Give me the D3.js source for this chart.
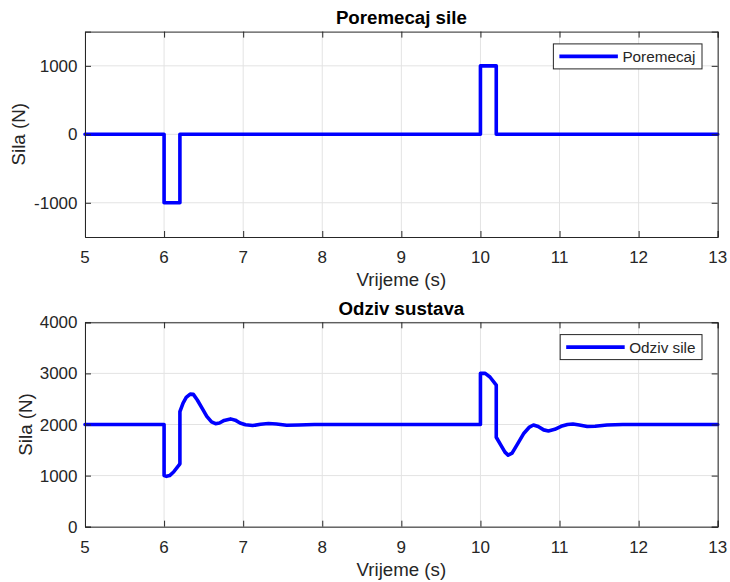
<!DOCTYPE html>
<html>
<head>
<meta charset="utf-8">
<script src="https://cdn.jsdelivr.net/npm/d3@7"></script>
<style>
  html, body { margin: 0; padding: 0; background: #ffffff; }
  svg { display: block; font-family: "Liberation Sans", Arial, Helvetica, sans-serif; }
</style>
</head>
<body>
<svg id="chart" width="730" height="582"></svg>
<script>
// ---- Data ----
const xTicks = [5, 6, 7, 8, 9, 10, 11, 12, 13];
const topYTicks = [-1000, 0, 1000];
const bottomYTicks = [0, 1000, 2000, 3000, 4000];

// Poremecaj (disturbance force)
const disturbanceTime  = [5, 6, 6, 6.2, 6.2, 10, 10, 10.2, 10.2, 13];
const disturbanceValue = [0, 0, -1000, -1000, 0, 0, 1000, 1000, 0, 0];

// Odziv sile (force response)
const responseTime = [5, 6.0, 6.0, 6.03, 6.07, 6.12, 6.2, 6.2, 6.24, 6.28, 6.33, 6.37, 6.42, 6.48, 6.54, 6.6, 6.65, 6.7, 6.76, 6.84, 6.9, 6.96, 7.03, 7.12, 7.22, 7.32, 7.42, 7.55, 7.7, 7.9,
  10.0, 10.0, 10.06, 10.12, 10.2, 10.2, 10.26, 10.31, 10.35, 10.4, 10.47, 10.55, 10.62, 10.67, 10.73, 10.8, 10.86, 10.94, 11.02, 11.1, 11.17, 11.25, 11.35, 11.45, 11.6, 11.8, 13];
const responseValue = [2000, 2000, 1000, 985, 1000, 1070, 1230, 2250, 2420, 2530, 2595, 2590, 2480, 2320, 2160, 2050, 2015, 2030, 2080, 2110, 2085, 2030, 1995, 1980, 2005, 2020, 2010, 1985, 1990, 2000,
  2000, 3000, 3000, 2930, 2770, 1750, 1590, 1460, 1400, 1440, 1620, 1830, 1950, 1990, 1960, 1895, 1875, 1905, 1965, 2000, 2010, 1990, 1960, 1965, 1990, 2000, 2000];

const panels = [
  { title: "Poremecaj sile", legend: "Poremecaj", xDomain: [5, 13], yDomain: [-1500, 1500], yTicks: topYTicks,
    t: disturbanceTime, v: disturbanceValue, top: 31.6, bottom: 237, ylabelX: 25 },
  { title: "Odziv sustava", legend: "Odziv sile", xDomain: [5, 13], yDomain: [0, 4000], yTicks: bottomYTicks,
    t: responseTime, v: responseValue, top: 322.3, bottom: 526.7, ylabelX: 31.5 }
];

// ---- Drawing ----
const svg = d3.select("#chart");
const left = 85, right = 717.7;
const axisColor = "#262626";
const gridColor = "#e3e3e3";
const lineColor = "#0000ff";
const tickFont = 17, labelFont = 18.7, legendFont = 15.3;
const tickLen = 6;

panels.forEach(p => {
  const x = d3.scaleLinear().domain(p.xDomain).range([left, right]);
  const y = d3.scaleLinear().domain(p.yDomain).range([p.bottom, p.top]);
  const g = svg.append("g");

  // background
  g.append("rect").attr("x", left).attr("y", p.top).attr("width", right - left).attr("height", p.bottom - p.top)
    .attr("fill", "#ffffff");

  // grid
  g.append("g").selectAll("line").data(xTicks).join("line")
    .attr("x1", d => x(d)).attr("x2", d => x(d)).attr("y1", p.top).attr("y2", p.bottom)
    .attr("stroke", gridColor).attr("stroke-width", 1);
  g.append("g").selectAll("line").data(p.yTicks).join("line")
    .attr("y1", d => y(d)).attr("y2", d => y(d)).attr("x1", left).attr("x2", right)
    .attr("stroke", gridColor).attr("stroke-width", 1);

  // data line
  const pts = p.t.map((t, i) => [t, p.v[i]]);
  g.append("path").datum(pts)
    .attr("d", d3.line().x(d => x(d[0])).y(d => y(d[1])).curve(d3.curveLinear))
    .attr("fill", "none").attr("stroke", lineColor).attr("stroke-width", 3.6)
    .attr("stroke-linejoin", "round").attr("stroke-linecap", "round");

  // axes with inward ticks (box on)
  const xAxisB = d3.axisBottom(x).tickValues(xTicks).tickSize(-tickLen).tickPadding(0).tickFormat("");
  const xAxisT = d3.axisTop(x).tickValues(xTicks).tickSize(-tickLen).tickFormat("");
  const yAxisL = d3.axisLeft(y).tickValues(p.yTicks).tickSize(-tickLen).tickFormat("");
  const yAxisR = d3.axisRight(y).tickValues(p.yTicks).tickSize(-tickLen).tickFormat("");
  [[xAxisB, `translate(0,${p.bottom})`], [xAxisT, `translate(0,${p.top})`],
   [yAxisL, `translate(${left},0)`], [yAxisR, `translate(${right},0)`]].forEach(([ax, tr]) => {
    const a = g.append("g").attr("transform", tr).call(ax);
    a.selectAll("path.domain").attr("stroke", axisColor).attr("stroke-width", 1);
    a.selectAll(".tick line").attr("stroke", axisColor).attr("stroke-width", 1);
  });

  // tick labels
  g.append("g").selectAll("text").data(xTicks).join("text")
    .attr("x", d => x(d)).attr("y", p.bottom + 26)
    .attr("text-anchor", "middle").attr("font-size", tickFont).attr("fill", axisColor)
    .text(d => d);
  g.append("g").selectAll("text").data(p.yTicks).join("text")
    .attr("x", left - 7.5).attr("y", d => y(d) + 6)
    .attr("text-anchor", "end").attr("font-size", tickFont).attr("fill", axisColor)
    .text(d => d);

  // axis labels
  g.append("text").attr("x", (left + right) / 2).attr("y", p.bottom + 49)
    .attr("text-anchor", "middle").attr("font-size", labelFont).attr("fill", axisColor)
    .text("Vrijeme (s)");
  g.append("text")
    .attr("transform", `translate(${p.ylabelX},${(p.top + p.bottom) / 2}) rotate(-90)`)
    .attr("text-anchor", "middle").attr("font-size", labelFont).attr("fill", axisColor)
    .text("Sila (N)");

  // title
  g.append("text").attr("x", (left + right) / 2).attr("y", p.top - 7.5)
    .attr("text-anchor", "middle").attr("font-size", labelFont).attr("font-weight", "bold").attr("fill", "#000000")
    .text(p.title);

  // legend
  const lg = g.append("g");
  const boxRight = right - 15.7;
  const boxTop = p.top + 12.3, boxH = 25;
  const txt = lg.append("text").attr("font-size", legendFont).attr("fill", axisColor).text(p.legend);
  const tw = txt.node().getComputedTextLength();
  const textX = boxRight - 6.5 - tw;
  const lineX2 = textX - 4.5, lineX1 = lineX2 - 58.5, boxLeft = lineX1 - 6;
  const cy = boxTop + boxH / 2;
  lg.insert("rect", "text").attr("x", boxLeft).attr("y", boxTop).attr("width", boxRight - boxLeft).attr("height", boxH)
    .attr("fill", "#ffffff").attr("stroke", axisColor).attr("stroke-width", 1);
  lg.append("line").attr("x1", lineX1).attr("x2", lineX2).attr("y1", cy).attr("y2", cy)
    .attr("stroke", lineColor).attr("stroke-width", 3.6);
  txt.attr("x", textX).attr("y", cy + 5.5);
});
</script>
</body>
</html>
